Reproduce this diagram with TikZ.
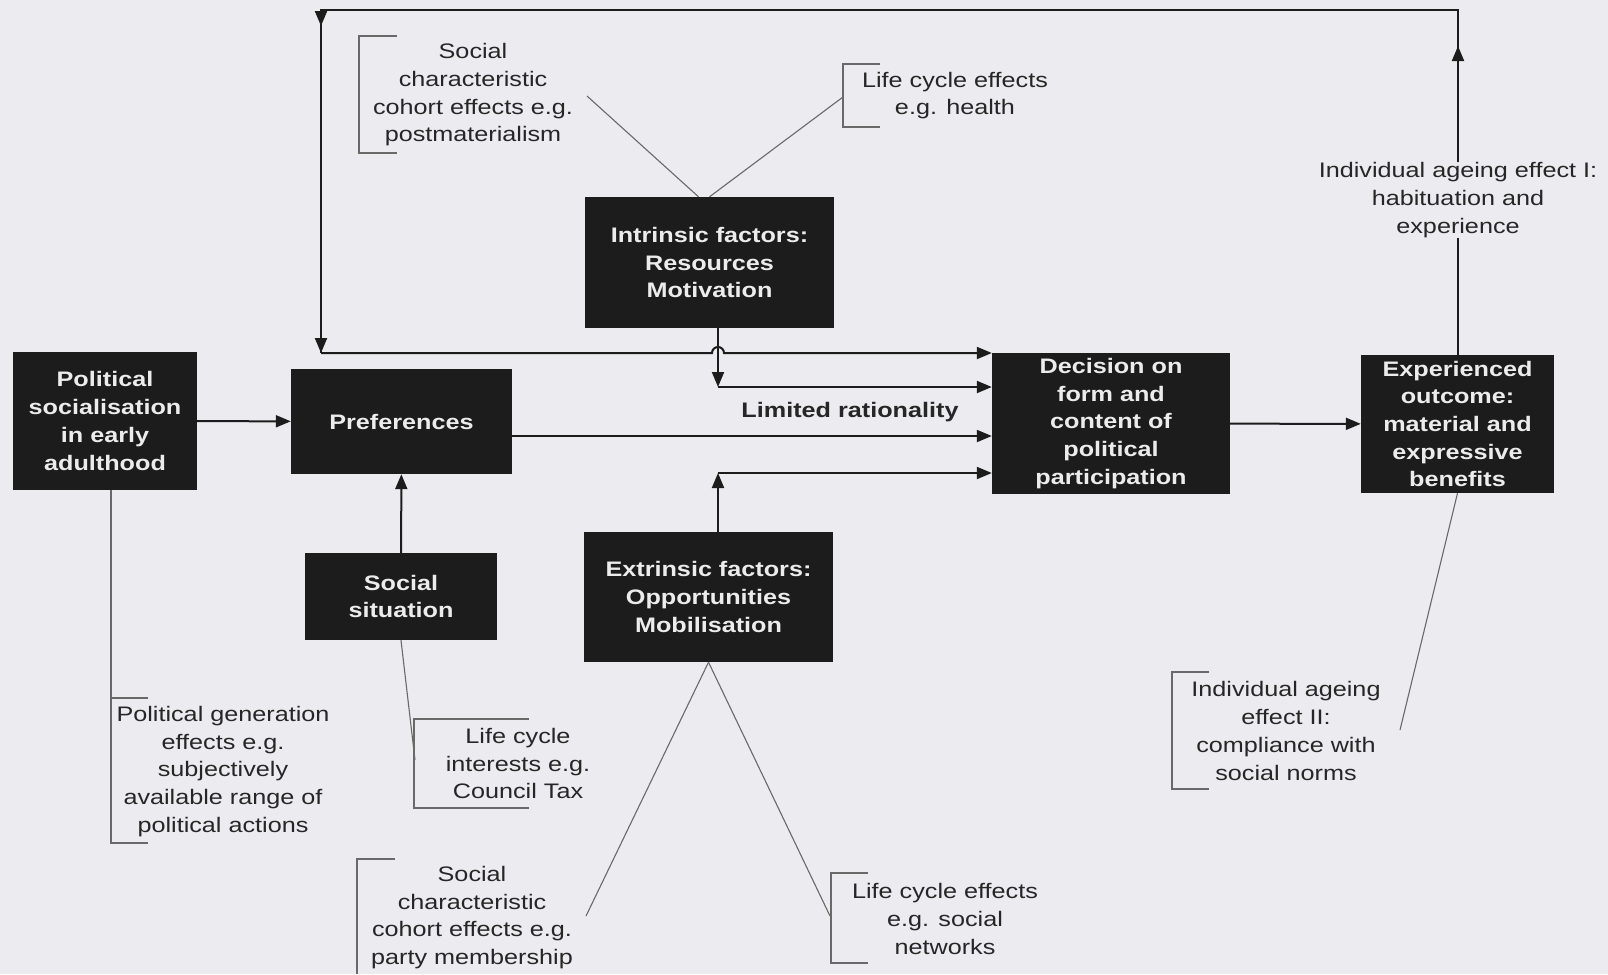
\documentclass[tikz,border=0pt]{standalone}
\usepackage{fontspec}
\setmainfont{Liberation Sans}[FakeStretch=1.2]
\usetikzlibrary{arrows.meta}
\definecolor{paper}{RGB}{236,236,240}
\definecolor{boxfill}{RGB}{28,28,28}
\definecolor{boxtext}{RGB}{236,236,236}
\definecolor{inktext}{RGB}{38,38,38}
\definecolor{thinline}{RGB}{105,105,105}
\begin{document}
\begin{tikzpicture}[x=1pt,y=-1pt,
    box/.style={rectangle,fill=boxfill,text=boxtext,inner sep=0pt,align=center,
      font=\fontsize{21}{27.7}\selectfont\bfseries},
    note/.style={text=inktext,inner sep=0pt,align=center,
      font=\fontsize{21}{27.7}\selectfont},
    link/.style={line width=2pt,draw=boxfill},
    arr/.style={link,-{Triangle[length=15pt,width=12pt]}},
    brak/.style={line width=1.1pt,draw=thinline}]
            \fill[paper] (0,0) rectangle (1608,974);
            % boxes
            \draw (105,421) node[box,minimum width=184pt,minimum height=138pt] (pol)
             {Political\\socialisation\\in early\\adulthood};
            \draw (401.5,421.5) node[box,minimum width=221pt,minimum height=105pt] (pref)
             {Preferences};
            \draw (401,596.5) node[box,minimum width=192pt,minimum height=87pt] (socsit)
             {Social\\situation};
            \draw (709.5,262.5) node[box,minimum width=249pt,minimum height=131pt] (intr)
             {Intrinsic factors:\\Resources\\Motivation};
            \draw (708.5,597) node[box,minimum width=249pt,minimum height=130pt] (extr)
             {Extrinsic factors:\\Opportunities\\Mobilisation};
            \draw (1111,423.5) node[box,minimum width=238pt,minimum height=141pt] (dec)
             {Decision on\\form and\\content of\\political\\participation};
            \draw (1457.5,424) node[box,minimum width=193pt,minimum height=138pt] (exp)
             {Experienced\\outcome:\\material and\\expressive\\benefits};
            % texts
            \draw (850,412) node[note,font=\fontsize{21}{27.7}\selectfont\bfseries] (limrat)
             {Limited rationality};
            \draw (1458,200) node[note] (ageI)
             {Individual ageing effect I:\\habituation and\\experience};
            \draw (473,95) node[note] (cohortTop)
             {Social\\characteristic\\cohort effects e.g.\\postmaterialism};
            \draw (955,95.5) node[note] (lifeHealth)
             {Life cycle effects\\e.g. health};
            \draw (223,771.5) node[note] (polGen)
             {Political generation\\effects e.g.\\subjectively\\available range of\\political actions};
            \draw (518,763.5) node[note] (lifeInt)
             {Life cycle\\interests e.g.\\Council Tax};
            \draw (472,917.5) node[note] (cohortBot)
             {Social\\characteristic\\cohort effects e.g.\\party membership};
            \draw (945,919) node[note] (lifeNet)
             {Life cycle effects\\e.g. social\\networks};
            \draw (1286,731) node[note] (ageII)
             {Individual ageing\\effect II:\\compliance with\\social norms};
            % corner points
            \coordinate (tr) at (1458,10);
            \coordinate (tl) at (321,10);
            \coordinate (bl) at (321,353);
            \coordinate (hop) at (712,353);
            \coordinate (lr) at (718,387);
            \coordinate (pd) at (512,436);
            \coordinate (ex) at (718,473);
            % main flow
            \draw[arr] (pol) -- (pref);
            \draw[arr] (socsit) -- (pref);
            \draw[arr] (pref.east |- pd) -- (dec.west |- pd);
            \draw[arr] (dec) -- (exp);
            \draw[arr] (intr.south -| lr) -- (lr);
            \draw[arr] (lr) -- (dec.west |- lr);
            \draw[arr] (extr.north -| ex) -- (ex);
            \draw[arr] (ex) -- (dec.west |- ex);
            % feedback loop
            \draw[link] (exp.north -| tr) -- (ageI.south -| tr);
            \draw[link] (ageI.north -| tr) -- (tr) -- (tl) -- (bl);
            \draw[arr] (ageI.north -| tr) -- (1458,46);
            \draw[arr] (tl) -- (321,26);
            \draw[arr] (321,320) -- (bl);
            \draw[arr] (bl) -- (hop) arc[start angle=180,end angle=0,radius=6pt]
             -- (dec.west |- bl);
            % brackets and their lines
            \draw[brak] (397,36) -| (359,153) -- (397,153);
            \draw[brak] (880,64) -| (843,127) -- (880,127);
            \draw[brak] (pol.south -| 111,0) -- (111,843) -- (148,843);
            \draw[brak] (111,698) -- (148,698);
            \draw[brak] (529,719) -| (414,808) -- (529,808);
            \draw[brak] (395,859) -| (357,974);
            \draw[brak] (868,873) -| (831,963) -- (868,963);
            \draw[brak] (1209,672) -| (1172,789) -- (1209,789);
            \draw[brak] (587,96) -- ([xshift=-11pt]intr.north);
            \draw[brak] (intr.north) -- (843,97);
            \draw[brak] (socsit.south) -- (415,760);
            \draw[brak] (extr.south) -- (586,916);
            \draw[brak] (extr.south) -- (830,916);
            \draw[brak] (exp.south) -- (1400,730);
\end{tikzpicture}
\end{document}
